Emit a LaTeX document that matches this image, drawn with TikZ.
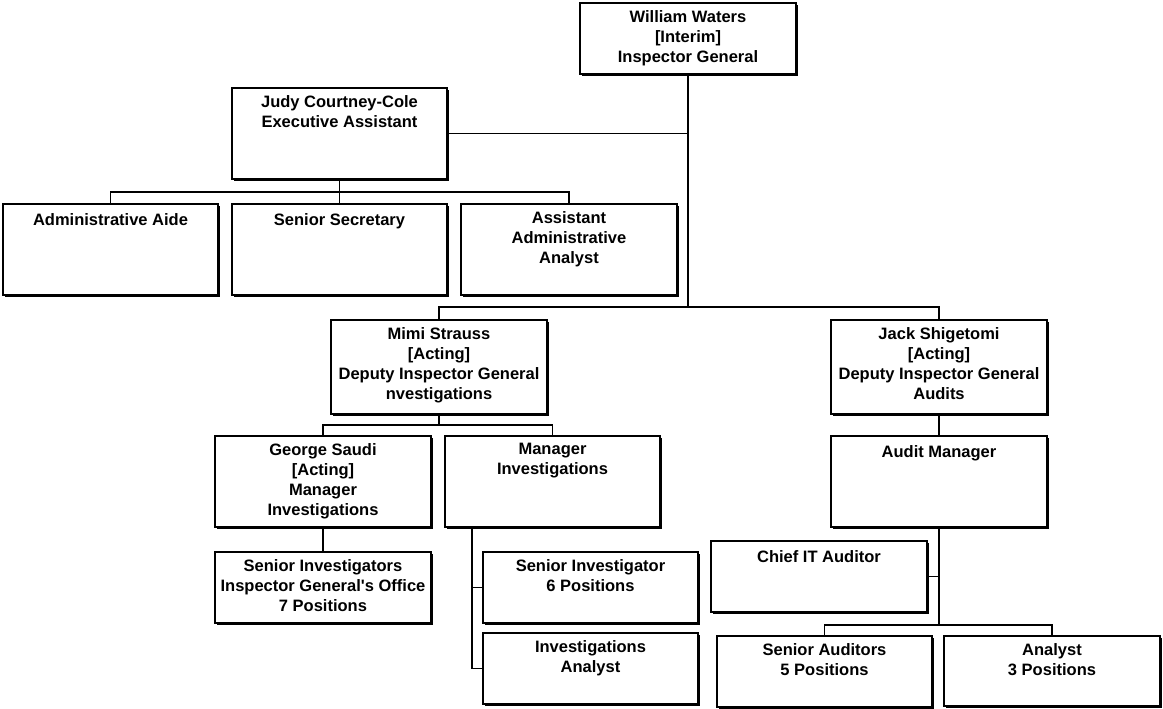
\documentclass[tikz,border=0pt]{standalone}
\usepackage{fontspec}
\newfontfamily\orgfont{Liberation Sans}
\usetikzlibrary{shadows}
\tikzset{
  box/.style={draw, fill=white, line width=1.3pt, inner sep=0pt, outer sep=0pt,
    drop shadow={shadow xshift=2.2pt, shadow yshift=-2.2pt, fill=black, opacity=1}},
  lbl/.style={align=center, inner sep=0pt, anchor=north,
    font=\orgfont\bfseries\fontsize{16.5}{20}\selectfont, execute at begin node=\strut},
  conn/.style={draw, line width=1.1pt}
}
\newcommand\orgbox[6]{%
  \node[box, minimum width={(#4-#2)*1pt}, minimum height={(#5-#3)*1pt}]
    (#1) at ({(#2+#4)/2},{(#3+#5)/2}) {};
  \node[lbl] (#1-t) at ([yshift=-7pt]#1.north) {#6};
}
\begin{document}
\begin{tikzpicture}[x=1pt,y=-1pt]
\useasboundingbox (0,0) rectangle (1163,709);
\orgbox{ww}{580}{3}{796}{74}{William Waters\\{[}Interim{]}\\Inspector General}
\orgbox{judy}{232}{88}{447}{179}{Judy Courtney-Cole\\Executive Assistant}
\orgbox{admin}{3}{204}{218}{295}{Administrative Aide}
\orgbox{sec}{232}{204}{447}{295}{Senior Secretary}
\orgbox{asst}{461}{204}{677}{295}{Assistant\\Administrative\\Analyst}
\orgbox{mimi}{331}{320}{547}{414}{Mimi Strauss\\{[}Acting{]}\\Deputy Inspector General\\nvestigations}
\orgbox{jack}{831}{320}{1047}{414}{Jack Shigetomi\\{[}Acting{]}\\Deputy Inspector General\\Audits}
\orgbox{george}{215}{436}{431}{527}{George Saudi\\{[}Acting{]}\\Manager\\Investigations}
\orgbox{maninv}{445}{436}{660}{527}{Manager\\Investigations}
\orgbox{siig}{215}{552}{431}{623}{Senior Investigators\\Inspector General's Office\\7 Positions}
\orgbox{si6}{483}{552}{698}{623}{Senior Investigator\\6 Positions}
\orgbox{ia}{483}{633}{698}{704}{Investigations\\Analyst}
\orgbox{audit}{831}{436}{1047}{527}{Audit Manager}
\orgbox{chief}{711}{541}{927}{612}{Chief IT Auditor}
\orgbox{senaud}{717}{636}{932}{707}{Senior Auditors\\5 Positions}
\orgbox{analyst}{944}{636}{1160}{706}{Analyst\\3 Positions}
% bus coordinates
\coordinate (busM) at (688,307);
\coordinate (jb) at (339.5,192);
\coordinate (mb) at (439,425);
\coordinate (ab) at (939,625);
\coordinate (mi1) at ([xshift=27pt]maninv.south west);
% connectors
\path[conn] (ww.south) -- (busM);
\path[conn] (mimi.north) |- (busM) -| (jack.north);
\path[conn] (judy.east) -- (judy.east -| ww.south);
\path[conn] (judy.south) -- (sec.north);
\path[conn] (admin.north) |- (jb) -| (asst.north);
\path[conn] (mimi.south) -- (mb);
\path[conn] (george.north) |- (mb) -| (maninv.north);
\path[conn] (george.south) -- (siig.north);
\path[conn] (mi1) |- (ia.west);
\path[conn] (mi1 |- si6.west) -- (si6.west);
\path[conn] (jack.south) -- (audit.north);
\path[conn] (audit.south) -- (ab);
\path[conn] (senaud.north) |- (ab) -| (analyst.north);
\path[conn] (chief.east) -- (chief.east -| audit.south);
\end{tikzpicture}
\end{document}
